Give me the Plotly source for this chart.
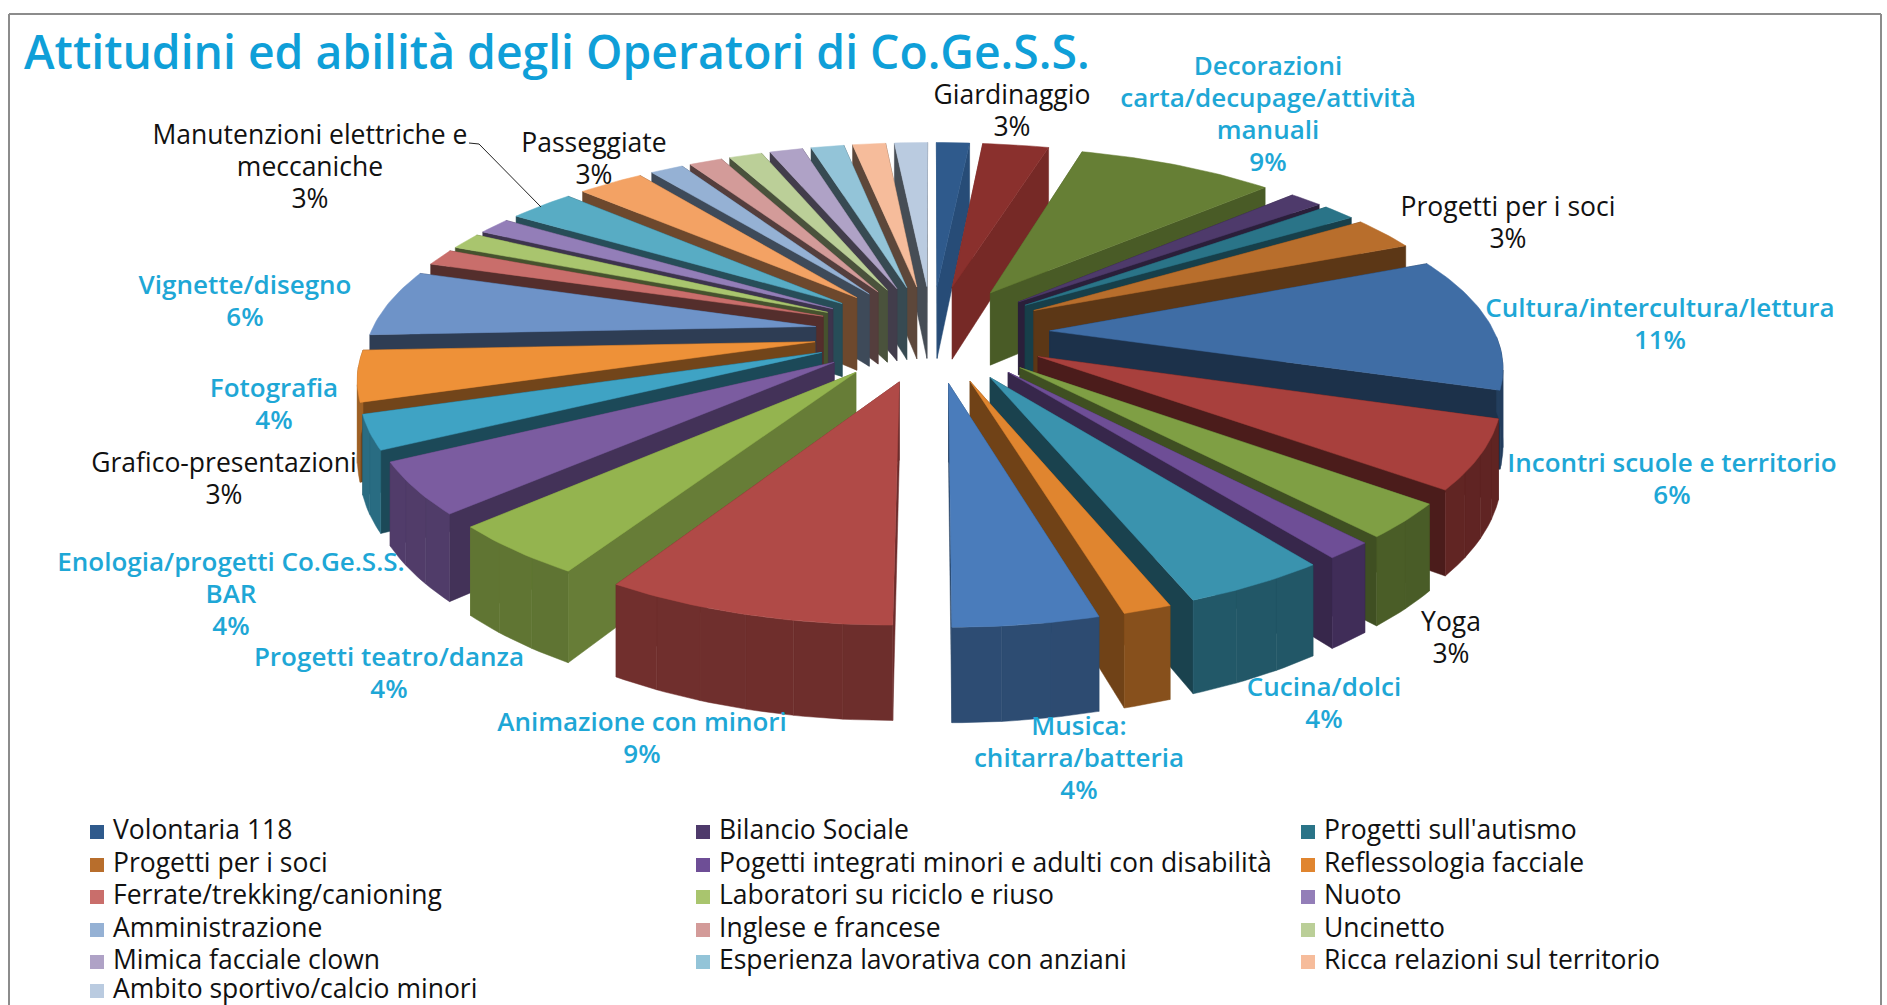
import numpy as np
import plotly.graph_objects as go

# ---- data (counts of operators, read from the rounded percentages; 70 in total)
categories = ["Volontaria 118", "Giardinaggio", "Decorazioni carta/decupage/attività manuali",
              "Bilancio Sociale", "Progetti sull'autismo", "Progetti per i soci",
              "Cultura/intercultura/lettura", "Incontri scuole e territorio", "Yoga",
              "Pogetti integrati minori e adulti con disabilità", "Cucina/dolci",
              "Reflessologia facciale", "Musica: chitarra/batteria", "Animazione con minori",
              "Progetti teatro/danza", "Enologia/progetti Co.Ge.S.S. BAR", "Grafico-presentazioni",
              "Fotografia", "Vignette/disegno", "Ferrate/trekking/canioning",
              "Laboratori su riciclo e riuso", "Nuoto", "Manutenzioni elettriche e meccaniche",
              "Passeggiate", "Amministrazione", "Inglese e francese", "Uncinetto",
              "Mimica facciale clown", "Esperienza lavorativa con anziani",
              "Ricca relazioni sul territorio", "Ambito sportivo/calcio minori"]
values = [1, 2, 6, 1, 1, 2, 8, 4, 2, 1, 3, 1, 3, 6, 3, 3, 2, 3, 4, 1, 1, 1, 2, 2, 1, 1, 1, 1, 1, 1, 1]
colors = ["#2F5A8C", "#8A302D", "#667F35", "#4E3A6B", "#2A7488", "#B86E2C",
          "#3F6DA5", "#A8403D", "#7F9F44", "#6E4E96", "#3A93AE", "#E0852F",
          "#4A7CBB", "#B04A47", "#94B44F", "#7B5CA0", "#3FA3C4", "#EE9138",
          "#6E93C8", "#C96E6B", "#A9C56E", "#937EB8", "#58ACC4", "#F3A264",
          "#95B1D4", "#D39B99", "#BBCF98", "#AFA2C6", "#93C4D8", "#F6BC9B", "#BACBE0"]
side_shade = [0.85, 0.86, 0.72, 0.55, 0.55, 0.5,
              0.45, 0.45, 0.5, 0.5, 0.45, 0.5,
              0.55, 0.62, 0.7, 0.55, 0.45, 0.48,
              0.42, 0.42, 0.42, 0.42, 0.45, 0.45,
              0.42, 0.4, 0.4, 0.38, 0.38, 0.38, 0.38]

legend_items = ["Volontaria 118", "Bilancio Sociale", "Progetti sull'autismo",
                "Progetti per i soci", "Pogetti integrati minori e adulti con disabilità", "Reflessologia facciale",
                "Ferrate/trekking/canioning", "Laboratori su riciclo e riuso", "Nuoto",
                "Amministrazione", "Inglese e francese", "Uncinetto",
                "Mimica facciale clown", "Esperienza lavorativa con anziani", "Ricca relazioni sul territorio",
                "Ambito sportivo/calcio minori"]

# category -> lines of its outside label, label centre x and first-line y (page px), emphasised?
label_layout = {
    "Giardinaggio": (["Giardinaggio"], 1012, 97, False),
    "Decorazioni carta/decupage/attività manuali": (["Decorazioni", "carta/decupage/attività", "manuali"], 1268, 68, True),
    "Progetti per i soci": (["Progetti per i soci"], 1508, 209, False),
    "Cultura/intercultura/lettura": (["Cultura/intercultura/lettura"], 1660, 310, True),
    "Incontri scuole e territorio": (["Incontri scuole e territorio"], 1672, 465, True),
    "Yoga": (["Yoga"], 1451, 624, False),
    "Cucina/dolci": (["Cucina/dolci"], 1324, 689, True),
    "Musica: chitarra/batteria": (["Musica:", "chitarra/batteria"], 1079, 728, True),
    "Animazione con minori": (["Animazione con minori"], 642, 724, True),
    "Progetti teatro/danza": (["Progetti teatro/danza"], 389, 659, True),
    "Enologia/progetti Co.Ge.S.S. BAR": (["Enologia/progetti Co.Ge.S.S.", "BAR"], 231, 564, True),
    "Grafico-presentazioni": (["Grafico-presentazioni"], 224, 465, False),
    "Fotografia": (["Fotografia"], 274, 390, True),
    "Vignette/disegno": (["Vignette/disegno"], 245, 287, True),
    "Manutenzioni elettriche e meccaniche": (["Manutenzioni elettriche e", "meccaniche"], 310, 137, False),
    "Passeggiate": (["Passeggiate"], 594, 145, False),
}

# ---- pie projection
CX, CY, R, EXPLODE, A, P, PX, H = 932, 333, 445, 0.265, 183, 0.17, 0.16, 75
LINE = 32.3


def project(u, v, z):
    s = 1 / (1 - P * v)
    return CX + R * u / (1 - PX * v), CY + A * v * s - H * z * s


def shade(hex_color, f):
    r, g, b = (int(hex_color[i:i + 2], 16) for i in (1, 3, 5))
    return f"rgb({int(r * f)},{int(g * f)},{int(b * f)})"


fig = go.Figure()


def poly(x, y, color):
    fig.add_trace(go.Scatter(x=np.r_[x, x[0]], y=np.r_[y, y[0]], mode="lines", fill="toself",
                             fillcolor=color, line=dict(color=color, width=0.5),
                             hoverinfo="skip", showlegend=False))


total = sum(values)
edges = np.r_[0, np.cumsum(values)] / total * 2 * np.pi
mids = (edges[:-1] + edges[1:]) / 2
order = np.argsort(-np.cos(mids))

for i in order:
    a0, a1 = edges[i], edges[i + 1]
    mid = mids[i]
    ou, ov = EXPLODE * np.sin(mid), -EXPLODE * np.cos(mid)
    th = np.linspace(a0, a1, max(3, int(np.degrees(a1 - a0)) + 1))
    ru, rv = ou + np.sin(th), ov - np.cos(th)
    side = side_shade[i]
    # radial cut faces
    for a in sorted((a0, a1), key=lambda t: -np.cos(t)):
        eu, ev = ou + np.sin(a), ov - np.cos(a)
        x, y = zip(project(ou, ov, 0), project(eu, ev, 0), project(eu, ev, -1), project(ou, ov, -1))
        poly(np.array(x), np.array(y), shade(colors[i], side))
    # outer wall, only where it faces the viewer; strips darken slightly towards the right
    for k in range(0, len(th) - 1, 5):
        j = min(k + 5, len(th) - 1)
        t_mid = (th[k] + th[j]) / 2
        if -np.cos(t_mid) < 0.02:
            continue
        tx, ty = project(ru[k:j + 1], rv[k:j + 1], 0)
        bx, by = project(ru[k:j + 1], rv[k:j + 1], -1)
        poly(np.r_[tx, bx[::-1]], np.r_[ty, by[::-1]], shade(colors[i], 0.62 - 0.05 * np.sin(t_mid)))
    # top face
    tx, ty = project(np.r_[ou, ru], np.r_[ov, rv], 0)
    poly(tx, ty, colors[i])

# ---- outside labels
CYAN, BLACK = "#1EA7D6", "#111111"
for emph in (True, False):
    xs, ys, ts = [], [], []
    for name, (lines, lx, ly, e) in label_layout.items():
        if e != emph:
            continue
        pct = f"{round(100 * values[categories.index(name)] / total)}%"
        for k, t in enumerate(lines + [pct]):
            xs.append(lx)
            ys.append(ly + k * LINE)
            ts.append(t)
    fig.add_trace(go.Scatter(x=xs, y=ys, text=ts, mode="text", hoverinfo="skip", showlegend=False,
                             textposition="middle center",
                             textfont=dict(family="Open Sans", size=26 if emph else 26.5,
                                           color=CYAN if emph else BLACK,
                                           weight=600 if emph else "normal")))

# leader line of "Manutenzioni"
fig.add_trace(go.Scatter(x=[469, 479, 541], y=[143, 144, 207], mode="lines", hoverinfo="skip",
                         showlegend=False, line=dict(color="#222222", width=1)))

# ---- legend, three columns
col_x = [97, 703, 1308]
row_y = [832, 865, 897, 930, 962, 991]
lx = [col_x[k % 3] for k in range(len(legend_items))]
ly = [row_y[k // 3] for k in range(len(legend_items))]
fig.add_trace(go.Scatter(x=lx, y=ly, mode="markers", hoverinfo="skip", showlegend=False,
                         marker=dict(symbol="square", size=14, line=dict(width=0),
                                     color=[colors[categories.index(n)] for n in legend_items])))
fig.add_trace(go.Scatter(x=[v + 16 for v in lx], y=ly, mode="text", text=legend_items, hoverinfo="skip",
                         showlegend=False, textposition="middle right",
                         textfont=dict(family="Open Sans", size=26.5, color="#111111")))

fig.update_layout(
    width=1887, height=1005, margin=dict(l=0, r=0, t=0, b=0),
    paper_bgcolor="white", plot_bgcolor="white", showlegend=False,
    xaxis=dict(range=[0, 1887], visible=False, fixedrange=True),
    yaxis=dict(range=[1005, 0], visible=False, fixedrange=True),
    title=dict(text="Attitudini ed abilità degli Operatori di Co.Ge.S.S.",
               x=24 / 1887, xanchor="left", y=1 - 53 / 1005, yanchor="middle",
               font=dict(family="Open Sans", size=46.3, color="#0F9FD8", weight=600)),
    shapes=[dict(type="line", xref="paper", yref="paper", x0=x0 / 1887, x1=x1 / 1887,
                 y0=1 - y0 / 1005, y1=1 - y1 / 1005, line=dict(color="#8C8C8C", width=2))
            for x0, y0, x1, y1 in [(9, 14, 1881, 14), (9, 14, 9, 1005), (1881, 14, 1881, 1005)]],
)

fig.write_html("out.html", config=dict(displayModeBar=False),
               post_script="document.body.style.margin='0';")
